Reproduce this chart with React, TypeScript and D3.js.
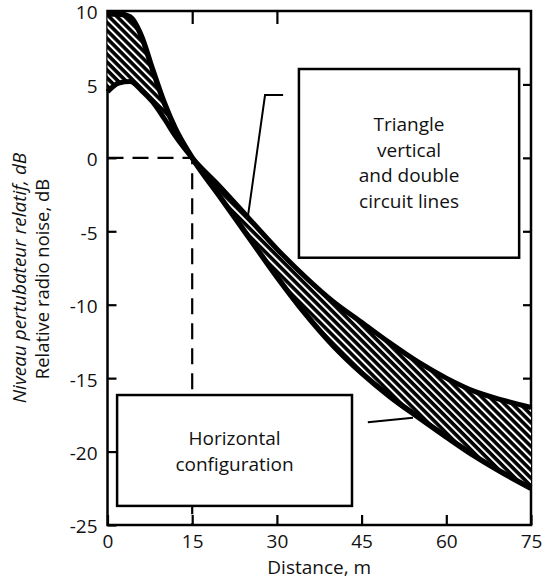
import React, { useRef, useEffect } from "react";
import * as d3 from "d3";

// values (distance in m, relative noise in dB)
const distances = [0, 2, 4, 6, 8, 10, 12, 15, 20, 25, 30, 35, 40, 45, 50, 55, 60, 65, 70, 75];
const horizontalNoise = [9.8, 9.8, 9.6, 8.3, 6.0, 3.8, 2.0, 0, -2.7, -5.4, -8.1, -10.6, -12.8, -14.65, -16.25, -17.65, -19.0, -20.3, -21.45, -22.5];
const triangleNoise = [4.5, 5.1, 5.2, 4.6, 3.8, 2.7, 1.5, 0, -2.0, -4.1, -6.2, -8.1, -9.8, -11.2, -12.6, -13.9, -15.0, -15.9, -16.5, -17.0];
const xTicks = [0, 15, 30, 45, 60, 75];
const yTicks = [10, 5, 0, -5, -10, -15, -20, -25];
const topTicks = [15, 30];
const rightTicks = [5, 0, -5, -10, -15, -20];

const triangleLines = ["Triangle", "vertical", "and double", "circuit lines"];
const horizontalLines = ["Horizontal", "configuration"];

const FONT = "'Open Sans', sans-serif";
const FS = "19px";

const App = () => {
  const svgRef = useRef<SVGSVGElement>(null);

  useEffect(() => {
    const svg = d3.select(svgRef.current);
    svg.selectAll("*").remove();

    const x = d3.scaleLinear().domain([0, 75]).range([107.5, 531]);
    const y = d3.scaleLinear().domain([10, -25]).range([11, 525]);

    // hatch pattern
    const defs = svg.append("defs");
    const pat = defs
      .append("pattern")
      .attr("id", "hatch")
      .attr("patternUnits", "userSpaceOnUse")
      .attr("width", 5.6)
      .attr("height", 5.6)
      .attr("patternTransform", "rotate(45)");
    pat.append("rect").attr("width", 5.6).attr("height", 5.6).attr("fill", "white");
    pat.append("rect").attr("width", 5.6).attr("height", 3.6).attr("fill", "black");

    // frame
    svg
      .append("rect")
      .attr("x", x(0))
      .attr("y", y(10))
      .attr("width", x(75) - x(0))
      .attr("height", y(-25) - y(10))
      .attr("fill", "none")
      .attr("stroke", "black")
      .attr("stroke-width", 2.5);

    const styleAxis = (g: any) => {
      g.select(".domain").remove();
      g.selectAll("line").attr("stroke", "black").attr("stroke-width", 2.2);
      g.selectAll("text")
        .attr("fill", "#111")
        .style("font-family", FONT)
        .style("font-size", FS);
    };

    svg
      .append("g")
      .attr("transform", `translate(${x(0)},0)`)
      .call(
        d3
          .axisLeft(y)
          .tickValues(yTicks)
          .tickSizeInner(-9)
          .tickSizeOuter(0)
          .tickPadding(10)
          .tickFormat((d) => String(d))
      )
      .call(styleAxis)
      .call((g: any) => g.selectAll("text").attr("dy", "0.42em"));

    svg
      .append("g")
      .attr("transform", `translate(0,${y(-25)})`)
      .call(
        d3
          .axisBottom(x)
          .tickValues(xTicks)
          .tickSizeInner(-10)
          .tickSizeOuter(0)
          .tickPadding(10)
          .tickFormat((d) => String(d))
      )
      .call(styleAxis);

    svg
      .append("g")
      .attr("transform", `translate(0,${y(10)})`)
      .call(d3.axisTop(x).tickValues(topTicks).tickSizeInner(-13).tickSizeOuter(0).tickFormat(() => ""))
      .call(styleAxis);

    svg
      .append("g")
      .attr("transform", `translate(${x(75)},0)`)
      .call(d3.axisRight(y).tickValues(rightTicks).tickSizeInner(-8).tickSizeOuter(0).tickFormat(() => ""))
      .call(styleAxis);

    // dashed reference line at 0 dB / 15 m
    svg
      .append("path")
      .attr("d", d3.line()([[x(0), y(0)], [x(15), y(0)], [x(15), y(-25)]]))
      .attr("fill", "none")
      .attr("stroke", "black")
      .attr("stroke-width", 2.2)
      .attr("stroke-dasharray", "16,9");

    // hatched band between the two curves
    const area = d3
      .area<number>()
      .x((d) => x(d))
      .y0((d, i) => y(horizontalNoise[i]))
      .y1((d, i) => y(triangleNoise[i]))
      .curve(d3.curveMonotoneX);

    svg.append("path").attr("d", area(distances)).attr("fill", "url(#hatch)");

    const lineOf = (vals: number[]) =>
      d3
        .line<number>()
        .x((d) => x(d))
        .y((d, i) => y(vals[i]))
        .curve(d3.curveMonotoneX)(distances);

    svg
      .append("path")
      .attr("d", lineOf(horizontalNoise))
      .attr("fill", "none")
      .attr("stroke", "black")
      .attr("stroke-width", 5.5);
    svg
      .append("path")
      .attr("d", lineOf(triangleNoise))
      .attr("fill", "none")
      .attr("stroke", "black")
      .attr("stroke-width", 5);

    // label boxes
    const box = (x0: number, x1: number, v0: number, v1: number, lines: string[], first: number, step: number) => {
      const g = svg.append("g");
      g.append("rect")
        .attr("x", x(x0))
        .attr("y", y(v0))
        .attr("width", x(x1) - x(x0))
        .attr("height", y(v1) - y(v0))
        .attr("fill", "white")
        .attr("stroke", "black")
        .attr("stroke-width", 2.5);
      g.selectAll("text")
        .data(lines)
        .join("text")
        .attr("x", (x(x0) + x(x1)) / 2)
        .attr("y", (d, i) => y(v0) + first + i * step)
        .attr("text-anchor", "middle")
        .style("font-family", FONT)
        .style("font-size", FS)
        .attr("fill", "#111")
        .text((d) => d);
    };
    box(33.9, 72.9, 6.05, -6.8, triangleLines, 62, 25.5);
    box(1.7, 43.3, -16.15, -23.7, horizontalLines, 50, 26);

    // leaders
    const leader = (pts: [number, number][]) =>
      svg
        .append("path")
        .attr("d", d3.line()(pts.map(([a, b]) => [x(a), y(b)] as [number, number])))
        .attr("fill", "none")
        .attr("stroke", "black")
        .attr("stroke-width", 2);
    leader([[31.1, 4.28], [27.9, 4.28], [24.9, -3.9]]);
    leader([[46.1, -18.0], [54.1, -17.7]]);

    // axis titles
    svg
      .append("text")
      .attr("x", (x(0) + x(75)) / 2)
      .attr("y", 574)
      .attr("text-anchor", "middle")
      .style("font-family", FONT)
      .style("font-size", FS)
      .attr("fill", "#111")
      .text("Distance, m");

    svg
      .append("text")
      .attr("transform", "translate(26,278) rotate(-90)")
      .attr("text-anchor", "middle")
      .style("font-family", FONT)
      .style("font-size", FS)
      .style("font-style", "italic")
      .attr("fill", "#111")
      .text("Niveau pertubateur relatif, dB");

    svg
      .append("text")
      .attr("transform", "translate(49,279) rotate(-90)")
      .attr("text-anchor", "middle")
      .style("font-family", FONT)
      .style("font-size", "18.4px")
      .attr("fill", "#111")
      .text("Relative radio noise, dB");
  }, []);

  return (
    <svg
      ref={svgRef}
      width={547}
      height={587}
      style={{ position: "absolute", left: 0, top: 0, background: "white" }}
    ></svg>
  );
};

export default App;
